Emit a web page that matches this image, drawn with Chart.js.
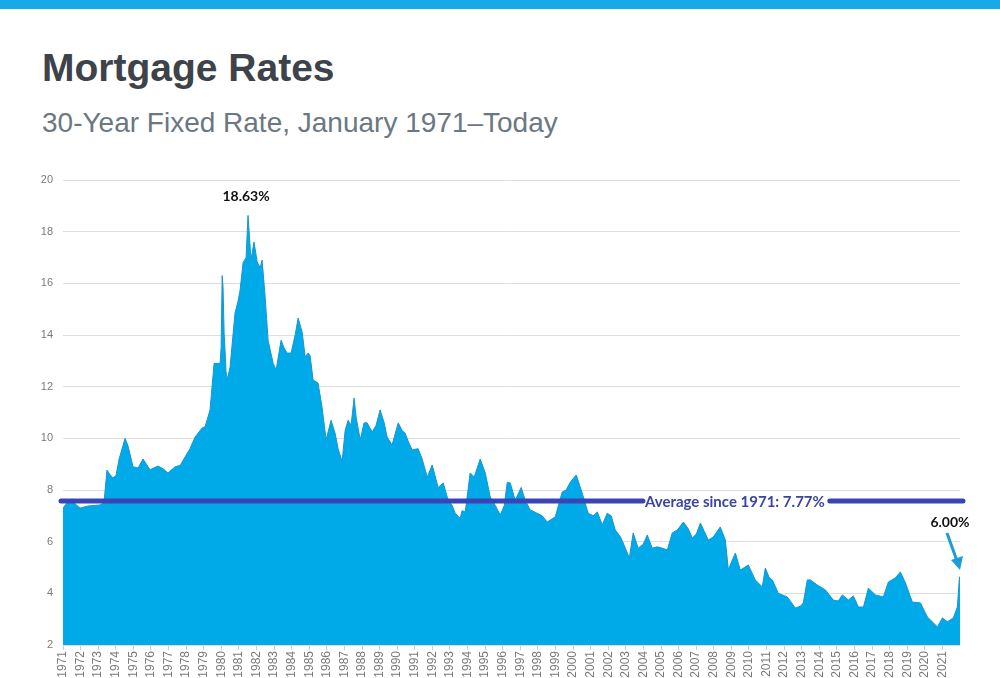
<!DOCTYPE html>
<html>
<head>
<meta charset="utf-8">
<script src="https://cdn.jsdelivr.net/npm/chart.js@4"></script>
<style>
  body { margin: 0; background: #fff; }
  #wrap { position: relative; width: 1000px; height: 678px; overflow: hidden; }
  #bar { position: absolute; left: 0; top: 0; width: 1000px; height: 9px; background: #17a9e8; }
  h1 { position: absolute; left: 42px; top: 48px; margin: 0; font: bold 39px "Liberation Sans", Arial, sans-serif; line-height: 39px; color: #3d4348; }
  h2 { position: absolute; left: 42px; top: 109px; margin: 0; font: normal 28px "Liberation Sans", Arial, sans-serif; line-height: 28px; color: #6b7781; white-space: nowrap; }
  canvas { position: absolute; left: 0; top: 0; }
</style>
</head>
<body>
<div id="wrap">
  <div id="bar"></div>
  <h1>Mortgage Rates</h1>
  <h2>30-Year Fixed Rate, January 1971–Today</h2>
  <canvas id="ratesChart" width="1000" height="678"></canvas>
</div>
<script>
// dates as decimal years
const dates = [
  1971.00, 1971.17, 1971.40, 1971.63, 1971.97, 1972.42, 1973.10, 1973.33, 1973.50, 1973.67,
  1973.84, 1974.01, 1974.19, 1974.53, 1974.70, 1974.98, 1975.27, 1975.55, 1975.95, 1976.40,
  1976.69, 1976.97, 1977.37, 1977.66, 1977.94, 1978.22, 1978.51, 1978.91, 1979.08, 1979.36,
  1979.59, 1979.93, 1979.99, 1980.05, 1980.10, 1980.16, 1980.27, 1980.33, 1980.50, 1980.78,
  1980.95, 1981.07, 1981.24, 1981.41, 1981.52, 1981.69, 1981.86, 1982.04, 1982.21, 1982.32,
  1982.49, 1982.66, 1982.95, 1983.12, 1983.40, 1983.57, 1983.74, 1983.97, 1984.20, 1984.37,
  1984.60, 1984.77, 1984.94, 1985.05, 1985.22, 1985.50, 1985.73, 1985.96, 1986.24, 1986.47,
  1986.64, 1986.87, 1987.04, 1987.21, 1987.38, 1987.55, 1987.67, 1987.90, 1988.12, 1988.29,
  1988.58, 1988.80, 1989.03, 1989.26, 1989.43, 1989.71, 1990.06, 1990.28, 1990.45, 1990.62,
  1990.85, 1991.19, 1991.42, 1991.71, 1991.99, 1992.33, 1992.62, 1992.90, 1993.13, 1993.30,
  1993.58, 1993.69, 1993.87, 1994.15, 1994.38, 1994.72, 1995.01, 1995.29, 1995.58, 1995.86,
  1996.09, 1996.26, 1996.43, 1996.71, 1997.05, 1997.28, 1997.56, 1997.96, 1998.25, 1998.53,
  1998.99, 1999.38, 1999.61, 1999.84, 2000.18, 2000.52, 2000.86, 2001.15, 2001.38, 2001.66,
  2001.94, 2002.17, 2002.40, 2002.68, 2002.85, 2003.20, 2003.42, 2003.70, 2003.99, 2004.22,
  2004.50, 2004.79, 2005.07, 2005.36, 2005.64, 2005.93, 2006.27, 2006.55, 2006.78, 2007.01,
  2007.24, 2007.46, 2007.69, 2007.97, 2008.37, 2008.66, 2008.83, 2009.00, 2009.23, 2009.51,
  2009.74, 2009.96, 2010.36, 2010.76, 2010.93, 2011.16, 2011.33, 2011.67, 2012.18, 2012.64,
  2012.92, 2013.09, 2013.32, 2013.49, 2013.89, 2014.35, 2014.80, 2015.08, 2015.31, 2015.65,
  2015.94, 2016.22, 2016.51, 2016.79, 2017.19, 2017.64, 2017.93, 2018.33, 2018.61, 2018.90,
  2019.29, 2019.75, 2020.15, 2020.72, 2021.00, 2021.28, 2021.62, 2021.85, 2021.97, 2022.00
];
const rates = [
  7.30, 7.45, 7.65, 7.50, 7.30, 7.38, 7.42, 7.50, 8.77, 8.60,
  8.47, 8.55, 9.20, 10.00, 9.70, 8.90, 8.85, 9.20, 8.78, 8.93,
  8.82, 8.66, 8.90, 8.95, 9.28, 9.60, 10.05, 10.40, 10.45, 11.10,
  12.90, 12.90, 13.50, 16.30, 15.85, 14.10, 12.60, 12.26, 12.76, 14.85,
  15.30, 15.74, 16.80, 17.00, 18.63, 16.90, 17.60, 16.83, 16.60, 16.90,
  15.50, 13.80, 12.90, 12.65, 13.80, 13.50, 13.30, 13.30, 14.00, 14.66,
  14.10, 13.15, 13.30, 13.20, 12.26, 12.14, 11.20, 9.94, 10.70, 10.20,
  9.60, 9.10, 10.30, 10.70, 10.50, 11.56, 10.80, 9.94, 10.60, 10.60,
  10.25, 10.50, 11.10, 10.60, 10.05, 9.74, 10.60, 10.30, 10.20, 9.90,
  9.55, 9.60, 9.20, 8.50, 8.97, 8.10, 8.27, 7.60, 7.40, 7.10,
  6.90, 7.20, 7.15, 8.66, 8.50, 9.20, 8.66, 7.73, 7.40, 7.03,
  7.40, 8.30, 8.27, 7.60, 8.10, 7.60, 7.23, 7.10, 7.00, 6.76,
  6.96, 7.92, 8.00, 8.30, 8.58, 7.88, 7.10, 7.00, 7.15, 6.65,
  7.10, 7.00, 6.45, 6.20, 5.95, 5.37, 6.34, 5.75, 5.90, 6.26,
  5.75, 5.80, 5.75, 5.68, 6.34, 6.45, 6.76, 6.50, 6.14, 6.30,
  6.72, 6.40, 6.06, 6.18, 6.57, 6.06, 4.90, 5.20, 5.56, 4.90,
  5.00, 5.10, 4.52, 4.25, 4.98, 4.60, 4.52, 4.00, 3.86, 3.43,
  3.50, 3.63, 4.52, 4.52, 4.32, 4.13, 3.74, 3.70, 3.94, 3.74,
  3.90, 3.47, 3.47, 4.20, 3.94, 3.86, 4.44, 4.60, 4.83, 4.40,
  3.66, 3.63, 3.08, 2.70, 3.05, 2.90, 3.05, 3.47, 4.63, 4.63
];
const firstYear = 1971;
const lastLabelYear = 2021;
const avgLine = 7.57;
const avgText = "Average since 1971: 7.77%";
const peakText = "18.63%";
const todayText = "6.00%";

const points = dates.map((d, i) => ({ x: d, y: rates[i] }));

const overlay = {
  id: "overlay",
  afterDatasetsDraw(chart) {
    const { ctx, chartArea, scales: { x, y } } = chart;
    ctx.save();

    // average line with label
    const ay = y.getPixelForValue(avgLine);
    ctx.font = "bold 15px Lato, sans-serif";
    const tw = ctx.measureText(avgText).width;
    const tcx = x.getPixelForValue(2009.2);
    ctx.strokeStyle = "#3a44b4";
    ctx.lineWidth = 5;
    ctx.lineCap = "round";
    ctx.beginPath();
    ctx.moveTo(x.getPixelForValue(firstYear) - 2, ay);
    ctx.lineTo(tcx - tw / 2 - 2, ay);
    ctx.moveTo(tcx + tw / 2 + 5, ay);
    ctx.lineTo(chartArea.right + 3, ay);
    ctx.stroke();
    ctx.fillStyle = "#3a44a8";
    ctx.textAlign = "center";
    ctx.textBaseline = "middle";
    ctx.fillText(avgText, tcx, ay + 1);

    // peak label
    const pi = rates.indexOf(Math.max(...rates));
    ctx.fillStyle = "#111";
    ctx.font = "bold 14px Lato, sans-serif";
    ctx.fillText(peakText, x.getPixelForValue(dates[pi]) - 2, y.getPixelForValue(rates[pi]) - 19);

    // latest value label and arrow
    const lx = x.getPixelForValue(dates[dates.length - 1]);
    const ly = y.getPixelForValue(rates[rates.length - 1]);
    ctx.fillText(todayText, lx - 10, ly - 55);
    ctx.strokeStyle = "#1f9bd6";
    ctx.fillStyle = "#1f9bd6";
    ctx.lineWidth = 3;
    ctx.lineCap = "butt";
    ctx.beginPath();
    ctx.moveTo(lx - 13, ly - 44);
    ctx.lineTo(lx - 3, ly - 16);
    ctx.stroke();
    ctx.beginPath();
    ctx.moveTo(lx, ly - 7);
    ctx.lineTo(lx - 9, ly - 17);
    ctx.lineTo(lx + 3, ly - 21);
    ctx.closePath();
    ctx.fill();

    ctx.restore();
  }
};

const ctx = document.getElementById("ratesChart").getContext("2d");
new Chart(ctx, {
  type: "line",
  data: {
    datasets: [{
      data: points,
      fill: "start",
      backgroundColor: "#00aae8",
      borderColor: "#1396d2",
      borderWidth: 1,
      pointRadius: 0,
      tension: 0
    }]
  },
  options: {
    responsive: false,
    animation: false,
    layout: { padding: { top: 180, right: 40, left: 0, bottom: 0 } },
    plugins: { legend: { display: false }, tooltip: { enabled: false } },
    scales: {
      x: {
        type: "linear",
        min: firstYear,
        max: 2022,
        afterFit: s => { s.height = 33; },
        grid: {
          drawOnChartArea: false,
          tickLength: 5,
          color: c => (c.tick && c.tick.value > lastLabelYear ? "rgba(0,0,0,0)" : "#cfcfcf")
        },
        border: { display: false },
        ticks: {
          stepSize: 1,
          autoSkip: false,
          minRotation: 90,
          maxRotation: 90,
          padding: 1,
          color: "#7a7a7a",
          font: { family: "Liberation Sans", size: 12 },
          callback: v => (v <= lastLabelYear ? String(v) : "")
        }
      },
      y: {
        min: 2,
        max: 20,
        afterFit: s => { s.width = 63; },
        grid: { color: "#dedede", drawTicks: false },
        border: { display: false },
        ticks: {
          stepSize: 2,
          padding: 10,
          color: "#7a7a7a",
          font: { family: "Liberation Sans", size: 11 }
        }
      }
    }
  },
  plugins: [overlay]
});
</script>
</body>
</html>
